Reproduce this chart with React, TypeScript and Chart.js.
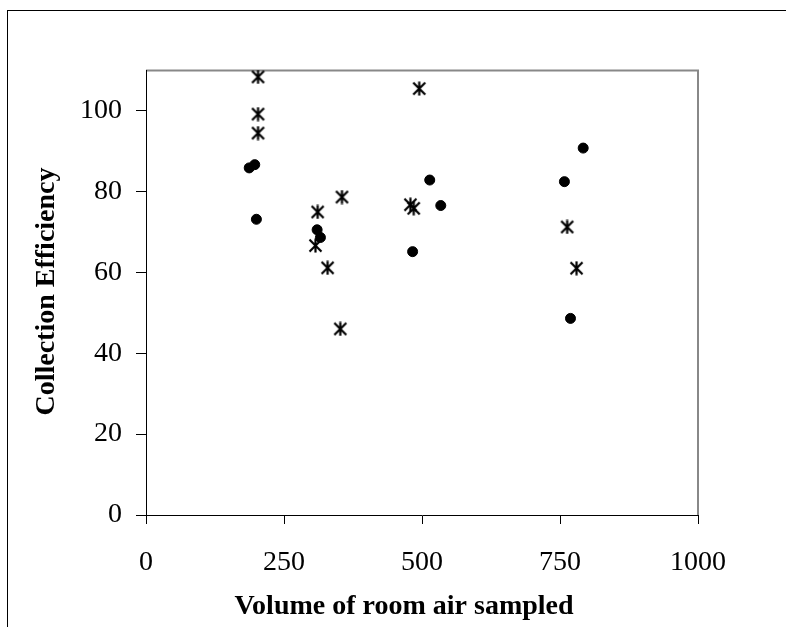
import React, { useEffect, useRef } from "react";
import { Chart, registerables } from "chart.js";

Chart.register(...registerables);

// Volume of room air sampled (x) and Collection Efficiency (y)
const circleX = [187, 197, 200, 310, 316, 514, 534, 483, 792, 758, 769];
const circleY = [85.8, 86.6, 73.1, 70.5, 68.6, 82.8, 76.5, 65.1, 90.7, 82.4, 48.6];

const starX = [203, 203, 203, 311, 355, 307, 329, 352, 495, 479, 485, 763, 780];
const starY = [108.3, 99.1, 94.4, 74.9, 78.6, 66.6, 61.1, 46.0, 105.4, 76.7, 75.8, 71.2, 61.0];

const xTicks = [0, 250, 500, 750, 1000];
const yTicks = [0, 20, 40, 60, 80, 100];

const xTitle = "Volume of room air sampled";
const yTitle = "Collection Efficiency";

const FONT = "'Liberation Serif', 'Times New Roman', serif";

function makeStar(): HTMLCanvasElement {
  const c = document.createElement("canvas");
  c.width = 15;
  c.height = 15;
  const g = c.getContext("2d")!;
  g.strokeStyle = "#000";
  g.lineWidth = 2.2;
  g.lineCap = "butt";
  g.beginPath();
  g.moveTo(7.5, 0.5);
  g.lineTo(7.5, 14.5);
  g.moveTo(1.5, 1.5);
  g.lineTo(13.5, 13.5);
  g.moveTo(13.5, 1.5);
  g.lineTo(1.5, 13.5);
  g.stroke();
  return c;
}

const framePlugin = {
  id: "frame",
  beforeDraw(chart: any) {
    const { ctx, chartArea } = chart;
    ctx.save();
    ctx.fillStyle = "#fff";
    ctx.fillRect(0, 0, chart.width, chart.height);
    ctx.strokeStyle = "#000";
    ctx.lineWidth = 1;
    ctx.strokeRect(7.5, 10.5, 1200, 1200);
    ctx.strokeStyle = "#888";
    ctx.lineWidth = 2;
    ctx.beginPath();
    ctx.moveTo(chartArea.left, chartArea.top + 0.5);
    ctx.lineTo(chartArea.right, chartArea.top + 0.5);
    ctx.lineTo(chartArea.right, chartArea.bottom);
    ctx.stroke();
    ctx.restore();
  },
  afterDraw(chart: any) {
    const { ctx, chartArea } = chart;
    ctx.save();
    ctx.fillStyle = "#000";
    ctx.font = `bold 28px ${FONT}`;
    ctx.textAlign = "center";
    ctx.textBaseline = "alphabetic";
    ctx.fillText(xTitle, 404, 614);
    ctx.translate(54, (chartArea.top + chartArea.bottom) / 2 - 1);
    ctx.rotate(-Math.PI / 2);
    ctx.fillText(yTitle, 0, 0);
    ctx.restore();
  },
};

export default function App() {
  const ref = useRef<HTMLCanvasElement>(null);
  useEffect(() => {
    const star = makeStar();
    const chart = new Chart(ref.current!, {
      type: "scatter",
      data: {
        datasets: [
          {
            label: "Circles",
            data: circleX.map((x, i) => ({ x, y: circleY[i] })),
            pointStyle: "circle",
            pointRadius: 5,
            pointBorderWidth: 1,
            backgroundColor: "#000",
            borderColor: "#000",
          },
          {
            label: "Stars",
            data: starX.map((x, i) => ({ x, y: starY[i] })),
            pointStyle: star as any,
            pointRadius: 7,
            backgroundColor: "#000",
            borderColor: "#000",
          },
        ],
      },
      options: {
        responsive: false,
        animation: false,
        layout: { padding: { left: 0, top: 70, right: 88, bottom: 0 } },
        plugins: { legend: { display: false }, tooltip: { enabled: false } },
        scales: {
          x: {
            type: "linear",
            min: 0,
            max: 1000,
            afterBuildTicks: (s: any) => {
              s.ticks = xTicks.map((v) => ({ value: v }));
            },
            afterFit: (s: any) => {
              s.height = 112;
            },
            ticks: {
              color: "#000",
              font: { family: FONT, size: 28 },
              padding: 22,
              maxRotation: 0,
              autoSkip: false,
              callback: (v: any) => String(v),
            },
            grid: { drawOnChartArea: false, drawTicks: true, tickLength: 9, color: "#000" },
            border: { color: "#000", width: 1 },
          },
          y: {
            type: "linear",
            min: 0,
            max: 110,
            afterBuildTicks: (s: any) => {
              s.ticks = yTicks.map((v) => ({ value: v }));
            },
            afterFit: (s: any) => {
              s.width = 146;
            },
            ticks: {
              color: "#000",
              font: { family: FONT, size: 28 },
              padding: 14,
              autoSkip: false,
              callback: (v: any) => String(v),
            },
            grid: { drawOnChartArea: false, drawTicks: true, tickLength: 10, color: "#000" },
            border: { color: "#000", width: 1 },
          },
        },
      },
      plugins: [framePlugin],
    });
    return () => chart.destroy();
  }, []);
  return (
    <div style={{ position: "absolute", left: 0, top: 0, width: 786, height: 627, overflow: "hidden" }}>
      <canvas ref={ref} width={786} height={627} style={{ display: "block" }} />
    </div>
  );
}
